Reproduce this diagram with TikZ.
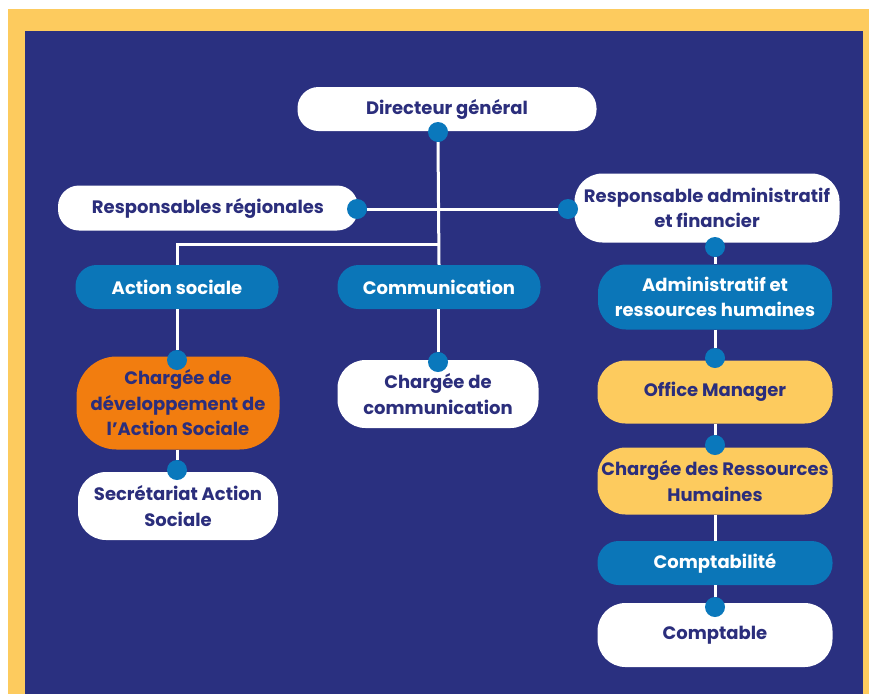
\documentclass[tikz,border=0pt]{standalone}
\usepackage{fontspec}
\setmainfont{Poppins}
\definecolor{bgnavy}{HTML}{2A3080}
\definecolor{frameyel}{HTML}{FDCB5E}
\definecolor{boxblue}{HTML}{0B76B8}
\definecolor{boxorange}{HTML}{F27D0F}
\definecolor{txtnavy}{HTML}{2B2E7C}
\definecolor{dotblue}{HTML}{0A78BC}
\tikzset{
  box/.style={rounded corners=21pt, inner sep=0pt, align=center,
    font=\bfseries\fontsize{18}{25.5}\selectfont},
  whitebox/.style={box, fill=white, text=txtnavy},
  bluebox/.style={box, fill=boxblue, text=white},
  yelbox/.style={box, fill=frameyel, text=txtnavy},
  orabox/.style={box, fill=boxorange, text=txtnavy},
  conn/.style={draw=white, line width=3pt},
  dotnode/.style={circle, fill=dotblue, inner sep=0pt, minimum size=20pt},
}
\begin{document}
\begin{tikzpicture}[x=1pt,y=-1pt]
\useasboundingbox (0,0) rectangle (869,694);
\fill[white] (0,0) rectangle (869,694);
\fill[frameyel] (8,9) rectangle (869,694);
\fill[bgnavy] (25,31) rectangle (863,694);

\coordinate (jleft) at (438,244);
\coordinate (jcorner) at (177,244);

% boxes
\node[whitebox, minimum width=299pt, minimum height=44pt] (dg) at (447,109) {Directeur général};
\node[whitebox, minimum width=300pt, minimum height=45pt] (rr) at (208,208) {Responsables régionales};
\node[whitebox, minimum width=265pt, minimum height=69pt, rounded corners=28pt] (raf) at (707,208) {Responsable administratif\\et financier};
\node[bluebox, minimum width=203pt, minimum height=44pt] (as) at (177,287) {Action sociale};
\node[bluebox, minimum width=203pt, minimum height=44pt] (com) at (439,287) {Communication};
\node[bluebox, minimum width=234pt, minimum height=65pt, rounded corners=28pt] (arh) at (715,297) {Administratif et\\ressources humaines};
\node[orabox, minimum width=203pt, minimum height=93pt, rounded corners=40pt] (cda) at (178,403) {Chargée de\\développement de\\l’Action Sociale};
\node[whitebox, minimum width=201pt, minimum height=68pt, rounded corners=28pt] (cc) at (438,394) {Chargée de\\communication};
\node[yelbox, minimum width=235pt, minimum height=63pt, rounded corners=28pt] (om) at (715,392) {Office Manager};
\node[whitebox, minimum width=200pt, minimum height=68pt, rounded corners=28pt] (sas) at (178,506) {Secrétariat Action\\Sociale};
\node[yelbox, minimum width=235pt, minimum height=67pt, rounded corners=28pt] (crh) at (715,481) {Chargée des Ressources\\Humaines};
\node[bluebox, minimum width=235pt, minimum height=44pt] (cpt) at (715,563) {Comptabilité};
\node[whitebox, minimum width=235pt, minimum height=64pt, rounded corners=28pt] (cptb) at (715,635) {Comptable};

% dots
\node[dotnode] (d-dg) at (438,132) {};
\node[dotnode] (d-rr) at (357,209) {};
\node[dotnode] (d-raf) at (568,209) {};
\node[dotnode] (d-rafb) at (715,247) {};
\node[dotnode] (d-cda) at (177,360) {};
\node[dotnode] (d-sas) at (177,470) {};
\node[dotnode] (d-cc) at (438,362) {};
\node[dotnode] (d-om) at (715,358) {};
\node[dotnode] (d-crh) at (715,445) {};
\node[dotnode] (d-cptb) at (715,607) {};

% connectors
\draw[conn] (d-dg.south) -- (com.north);
\draw[conn] (d-rr.east) -- (d-raf.west);
\draw[conn] (jleft) -- (jcorner) -- (as.north);
\draw[conn] (as.south) -- (d-cda.north);
\draw[conn] (cda.south -| d-sas) -- (d-sas.north);
\draw[conn] (com.south -| d-cc) -- (d-cc.north);
\draw[conn] (d-rafb.south) -- (arh.north);
\draw[conn] (arh.south) -- (d-om.north);
\draw[conn] (om.south) -- (d-crh.north);
\draw[conn] (crh.south) -- (cpt.north);
\draw[conn] (cpt.south) -- (d-cptb.north);
\end{tikzpicture}
\end{document}
